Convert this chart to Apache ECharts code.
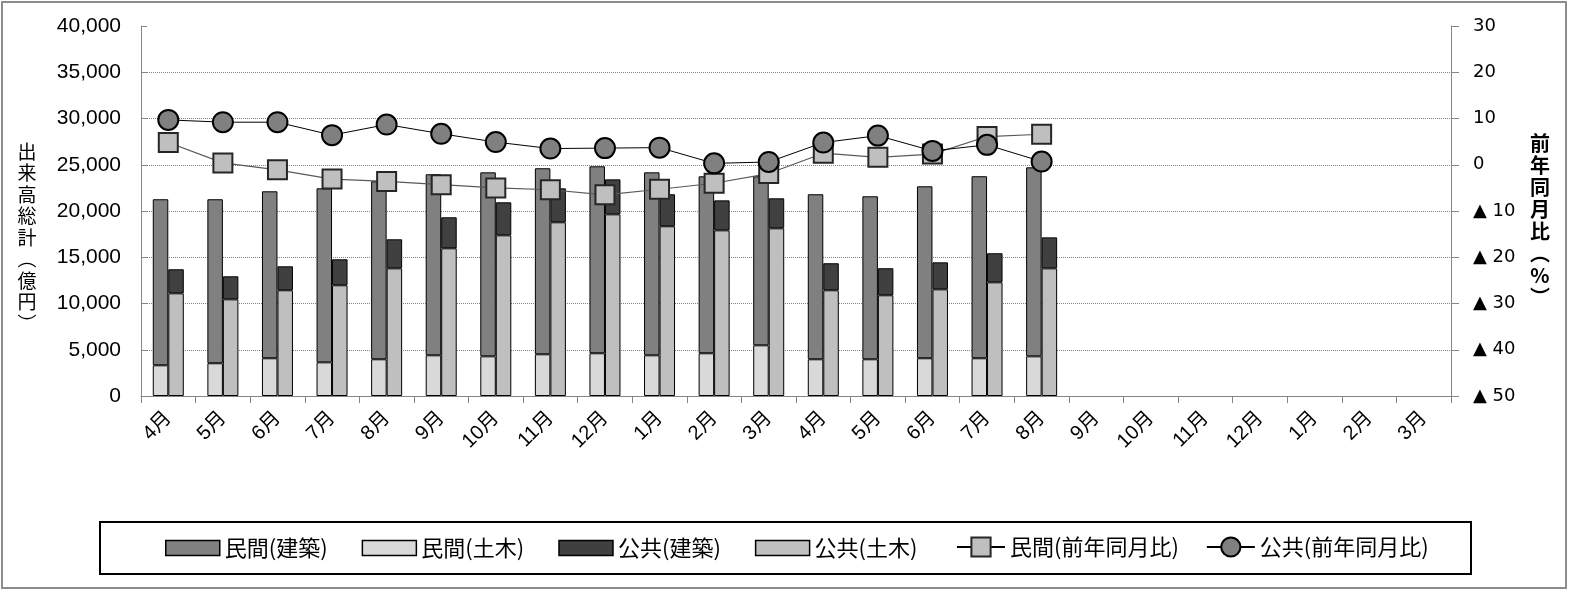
<!DOCTYPE html>
<html>
<head>
<meta charset="utf-8">
<script src="https://cdn.jsdelivr.net/npm/echarts@6/dist/echarts.min.js"></script>
<style>
html,body{margin:0;padding:0;background:#fff;}
#chart{width:1569px;height:591px;}
</style>
</head>
<body>
<div id="chart"></div>
<script>
const months = ['4月','5月','6月','7月','8月','9月','10月','11月','12月','1月','2月','3月','4月','5月','6月','7月','8月','9月','10月','11月','12月','1月','2月','3月'];
const privBuild = [17950, 17730, 18050, 18810, 19240, 19570, 19890, 20110, 20210, 19780, 19130, 18270, 17840, 17620, 18590, 19680, 20430];
const privCivil = [3320, 3540, 4080, 3640, 3970, 4400, 4290, 4510, 4620, 4400, 4620, 5480, 3970, 3970, 4080, 4080, 4290];
const pubBuild = [2600, 2490, 2590, 2810, 3140, 3350, 3570, 3670, 3780, 3460, 3240, 3240, 2920, 2920, 2920, 3140, 3350];
const pubCivil = [11100, 10450, 11430, 11970, 13800, 15970, 17370, 18780, 19640, 18350, 17910, 18130, 11430, 10890, 11530, 12290, 13800];
const privYoY = [4.8, 0.4, -1.1, -3.1, -3.6, -4.3, -5.0, -5.4, -6.5, -5.3, -4.0, -1.9, 2.5, 1.6, 2.3, 6.1, 6.6];
const pubYoY = [9.7, 9.2, 9.2, 6.4, 8.7, 6.7, 4.9, 3.5, 3.6, 3.7, 0.3, 0.6, 4.8, 6.3, 3.0, 4.3, 0.7];
const leftTitle = ['出','来','高','総','計','︵','億','円','︶'];
const rightTitle = ['前','年','同','月','比','︵','%','︶'];

const chart = echarts.init(document.getElementById('chart'), null, {renderer:'canvas'});
const axisGray = '#868686';
const cjk = "'Noto Sans CJK JP', sans-serif";
const barBase = {type:'bar', barWidth:15.5, barGap:'0%', barCategoryGap:'43%'};
chart.setOption({
  animation:false,
  backgroundColor:'#fff',
  grid:{left:141, right:118, top:26, bottom:195, containLabel:false},
  legend:[{
    data:['民間(建築)','民間(土木)','公共(建築)','公共(土木)'],
    icon:'rect',
    left:165, top:537, orient:'horizontal', padding:0,
    itemWidth:54, itemHeight:15, itemGap:34,
    itemStyle:{borderColor:'#000', borderWidth:1.5},
    textStyle:{fontFamily:cjk, fontSize:22, color:'#000'}
  },{
    data:['民間(前年同月比)','公共(前年同月比)'],
    left:956, top:536, orient:'horizontal', padding:0,
    itemWidth:48, itemHeight:24, itemGap:27,
    lineStyle:{width:2, color:'#000'},
    textStyle:{fontFamily:cjk, fontSize:22, color:'#000'}
  }],
  xAxis:{
    type:'category', data:months, boundaryGap:true,
    axisLine:{lineStyle:{color:axisGray, width:1}},
    axisTick:{show:true, length:7, lineStyle:{color:axisGray}},
    axisLabel:{rotate:45, interval:0, margin:19, fontSize:20, color:'#000', fontFamily:"'Liberation Sans', 'Noto Sans CJK JP', sans-serif"}
  },
  yAxis:[{
    type:'value', position:'left', min:0, max:40000, interval:5000,
    axisLine:{show:true, lineStyle:{color:axisGray}},
    axisTick:{show:true, inside:true, length:6, lineStyle:{color:axisGray}},
    axisLabel:{margin:20, fontSize:21, color:'#000', fontFamily:"'Liberation Sans', sans-serif",
      formatter:v => v.toLocaleString('en-US')},
    splitLine:{show:true, showMaxLine:false, lineStyle:{type:'dotted', color:'#808080', width:1}}
  },{
    type:'value', position:'right', min:-50, max:30, interval:10,
    axisLine:{show:true, lineStyle:{color:axisGray}},
    axisTick:{show:true, length:8, lineStyle:{color:axisGray}},
    axisLabel:{margin:22, fontSize:18, color:'#000', fontFamily:"'DejaVu Sans', sans-serif",
      formatter:v => v < 0 ? '▲ ' + (-v) : String(v)},
    splitLine:{show:false}
  }],
  series:[
    Object.assign({}, barBase, {name:'民間(土木)', stack:'priv', data:privCivil,
      itemStyle:{color:'#d9d9d9', borderColor:'#000', borderWidth:1}}),
    Object.assign({}, barBase, {name:'民間(建築)', stack:'priv', data:privBuild,
      itemStyle:{color:'#808080', borderColor:'#000', borderWidth:1}}),
    Object.assign({}, barBase, {name:'公共(土木)', stack:'pub', data:pubCivil,
      itemStyle:{color:'#bfbfbf', borderColor:'#000', borderWidth:1}}),
    Object.assign({}, barBase, {name:'公共(建築)', stack:'pub', data:pubBuild,
      itemStyle:{color:'#404040', borderColor:'#000', borderWidth:1}}),
    {name:'民間(前年同月比)', type:'line', yAxisIndex:1, data:privYoY, symbol:'rect', symbolSize:19,
      lineStyle:{color:'#595959', width:1.2}, itemStyle:{color:'#bfbfbf', borderColor:'#262626', borderWidth:2}, z:3},
    {name:'公共(前年同月比)', type:'line', yAxisIndex:1, data:pubYoY, symbol:'circle', symbolSize:20,
      lineStyle:{color:'#000', width:1}, itemStyle:{color:'#808080', borderColor:'#000', borderWidth:2}, z:4}
  ],
  graphic:[
    {type:'rect', silent:true, shape:{x:2, y:2, width:1564, height:586}, style:{fill:'none', stroke:'#8c8c8c', lineWidth:2}},
    {type:'rect', silent:true, shape:{x:100, y:522, width:1371, height:52}, style:{fill:'none', stroke:'#000', lineWidth:2}},
    {type:'text', silent:true, x:27, y:141, style:{text:leftTitle.join('\n'), fontFamily:cjk, fontSize:19, lineHeight:21.5, fill:'#000', textAlign:'center', textVerticalAlign:'top'}},
    {type:'text', silent:true, x:1540, y:132, style:{text:rightTitle.join('\n'), fontFamily:cjk, fontSize:20, fontWeight:'bold', lineHeight:22, fill:'#000', textAlign:'center', textVerticalAlign:'top'}}
  ]
});
</script>
</body>
</html>
